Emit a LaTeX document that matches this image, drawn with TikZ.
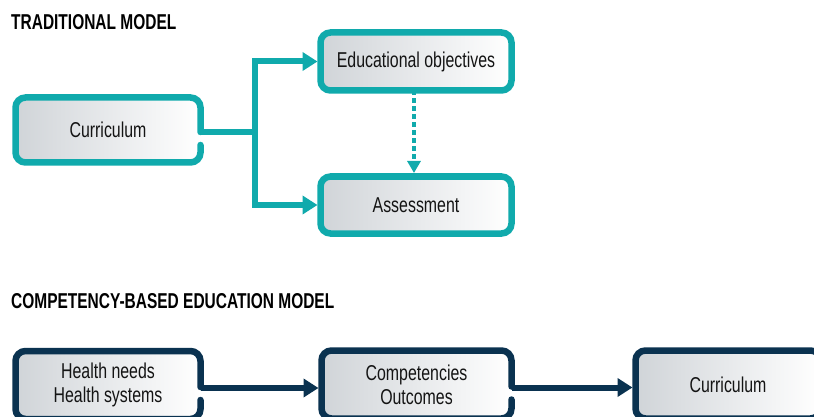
\documentclass[tikz,border=0pt]{standalone}
\usepackage{fontspec}
\setmainfont{Liberation Sans}[FakeStretch=0.74]
\newfontfamily\titlefont{Liberation Sans}[FakeStretch=0.72]
\usetikzlibrary{arrows.meta}
\definecolor{tealc}{RGB}{16,170,172}
\definecolor{navyc}{RGB}{10,50,80}
\definecolor{fillg}{RGB}{208,212,216}
\definecolor{txtc}{RGB}{20,20,20}
\newcommand\gapborder[2]{\draw[#2, line cap=round, rounded corners=10pt] ([yshift=-2pt]#1.east) -- (#1.north east) -- (#1.north west) -- (#1.south west) -- (#1.south east) -- ([yshift=-15pt]#1.east);}
\begin{document}
\begin{tikzpicture}[x=1pt,y=-1pt,
  boxfill/.style={rectangle, rounded corners=10pt, left color=fillg, right color=white, outer sep=0pt, inner sep=2pt, align=center, text=txtc, font=\fontsize{21.5}{24}\selectfont},
  tborder/.style={draw=tealc, line width=6.5pt},
  nborder/.style={draw=navyc, line width=6.5pt},
  tline/.style={draw=tealc, line width=6pt},
  nline/.style={draw=navyc, line width=6pt},
  tarrow/.style={tline, -{Triangle[length=15pt,width=18pt]}, shorten >=3pt},
  narrow/.style={nline, -{Triangle[length=15pt,width=18pt]}, shorten >=3pt},
  title/.style={anchor=west, inner sep=0pt, font=\titlefont\bfseries\fontsize{21.5}{24}\selectfont, text=black}
]
\useasboundingbox (0,0) rectangle (814,417);

% titles
\node[title] (t1) at (11,22) {TRADITIONAL MODEL};
\node[title] (t2) at (11,301) {COMPETENCY-BASED EDUCATION MODEL};

% traditional model
\node[boxfill, tborder, minimum width=191pt, minimum height=58pt] (eo) at (416,61.5) {Educational objectives};
\node[boxfill, tborder, minimum width=191pt, minimum height=57pt] (ass) at (416,205) {Assessment};
\node[boxfill, minimum width=185pt, minimum height=65pt] (cur) at (108,130) {Curriculum};
\gapborder{cur}{tborder}

\coordinate (trunk) at (255,132);
\draw[tline] ([yshift=-2pt]cur.east) -- (trunk);
\draw[tarrow] (trunk) |- (eo.west);
\draw[tarrow] (trunk) |- (ass.west);
\draw[draw=tealc, line width=3.8pt, dash pattern=on 5pt off 3pt, -{Triangle[length=12pt,width=13pt]}, shorten >=3.5pt] ([xshift=-2pt]eo.south) -- ([xshift=-2pt]ass.north);

% competency-based model
\node[boxfill, minimum width=185pt, minimum height=68pt] (hn) at (108,385) {Health needs\\Health systems};
\gapborder{hn}{nborder}
\node[boxfill, minimum width=190pt, minimum height=68pt] (cm) at (416.5,384.5) {Competencies\\Outcomes};
\gapborder{cm}{nborder}
\node[boxfill, nborder, minimum width=185pt, minimum height=68pt] (cur2) at (728,384.5) {Curriculum};

\draw[narrow] ([yshift=-3pt]hn.east) -- ([yshift=-3pt]hn.east -| cm.west);
\draw[narrow] ([yshift=-3pt]cm.east) -- ([yshift=-3pt]cm.east -| cur2.west);
\end{tikzpicture}
\end{document}
